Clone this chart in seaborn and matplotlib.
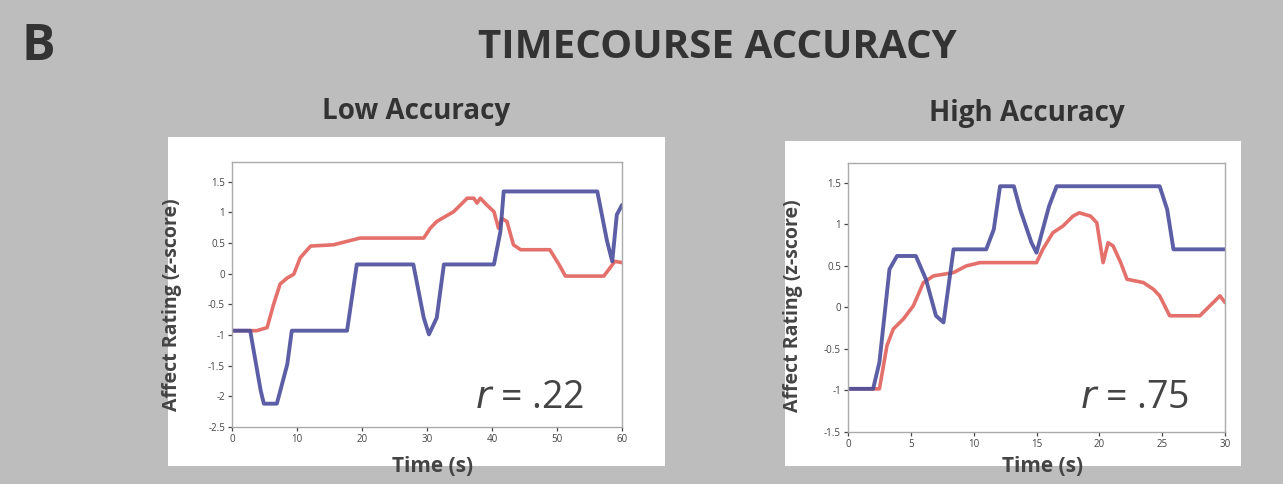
import matplotlib
matplotlib.use("Agg")
import matplotlib.pyplot as plt
import seaborn as sns
import pandas as pd
from matplotlib.patches import Rectangle

# ---------------- data ----------------
low_blue_x = [0, 2.8, 4.4, 4.9, 6.9, 8.5, 9.2, 17.7, 19.2, 27.9, 29.5, 30.3, 31.5, 32.6,
              40.3, 41.3, 41.8, 56.2, 57.7, 58.5, 59.2, 60]
low_blue_y = [-0.93, -0.93, -1.9, -2.12, -2.12, -1.48, -0.93, -0.93, 0.15, 0.15, -0.72, -0.99,
              -0.72, 0.15, 0.15, 0.69, 1.34, 1.34, 0.53, 0.2, 0.96, 1.12]

low_red_x = [0, 3.8, 5.4, 6.4, 7.4, 8.5, 9.5, 10.5, 12.1, 15.6, 19.7, 24.9, 29.5, 30.5, 31.5,
             34.1, 36.2, 37.2, 37.7, 38.2, 39.2, 40.3, 41.0, 41.5, 42.3, 43.3, 44.4, 48.9,
             50.3, 51.3, 57.2, 58.2, 58.9, 60]
low_red_y = [-0.93, -0.93, -0.88, -0.5, -0.17, -0.07, -0.01, 0.26, 0.45, 0.47, 0.58, 0.58, 0.58,
             0.74, 0.85, 1.01, 1.23, 1.23, 1.15, 1.23, 1.12, 1.01, 0.74, 0.9, 0.85, 0.47, 0.39,
             0.39, 0.15, -0.04, -0.04, 0.1, 0.2, 0.18]

high_blue_x = [0, 2.0, 2.5, 3.3, 3.9, 5.4, 6.2, 7.0, 7.6, 8.0, 8.4, 11.0, 11.6, 12.1, 13.2,
               13.7, 14.6, 15.0, 15.5, 16.0, 16.6, 24.8, 25.4, 25.9, 30]
high_blue_y = [-0.98, -0.98, -0.66, 0.46, 0.62, 0.62, 0.34, -0.1, -0.18, 0.26, 0.7, 0.7, 0.94,
               1.46, 1.46, 1.18, 0.78, 0.66, 0.94, 1.22, 1.46, 1.46, 1.18, 0.7, 0.7]

high_red_x = [0, 2.5, 3.1, 3.6, 4.4, 5.2, 6.0, 6.8, 8.4, 9.4, 10.5, 15.0, 15.5, 16.3, 17.1,
              17.9, 18.4, 19.3, 19.8, 20.3, 20.7, 21.1, 21.7, 22.2, 23.5, 24.3, 24.8, 25.6,
              28.0, 28.8, 29.6, 30]
high_red_y = [-0.98, -0.98, -0.46, -0.26, -0.14, 0.02, 0.3, 0.38, 0.42, 0.5, 0.54, 0.54, 0.7,
              0.9, 0.98, 1.1, 1.14, 1.1, 1.02, 0.54, 0.78, 0.74, 0.54, 0.34, 0.3, 0.22, 0.14,
              -0.1, -0.1, 0.02, 0.14, 0.06]

low_xticks = [0, 10, 20, 30, 40, 50, 60]
low_yticks = [-2.5, -2, -1.5, -1, -0.5, 0, 0.5, 1, 1.5]
high_xticks = [0, 5, 10, 15, 20, 25, 30]
high_yticks = [-1.5, -1, -0.5, 0, 0.5, 1, 1.5]

panel_titles = ["Low Accuracy", "High Accuracy"]
r_labels = [".22", ".75"]

# ---------------- style ----------------
sns.set_style("white")
plt.rcParams["font.family"] = ["Open Sans", "DejaVu Sans"]

BG = "#bdbdbd"
BLUE = "#4a4d9b"
RED = "#e2615c"

fig = plt.figure(figsize=(12.83, 4.84), dpi=100, facecolor=BG)

def fx(px):
    return px / 1283.0

def fy(py):
    return 1 - py / 484.0

# white panels
for (x0, y0, x1, y1) in [(168, 137, 665, 466), (785, 141, 1241, 466)]:
    fig.patches.append(Rectangle((fx(x0), fy(y1)), fx(x1 - x0), (y1 - y0) / 484.0,
                                 transform=fig.transFigure, facecolor="white",
                                 edgecolor="none", zorder=-5))

fig.text(fx(22), fy(47), "B", fontsize=36, fontweight="bold", color="#333333",
         va="center", ha="left")
fig.text(fx(717), fy(47), "TIMECOURSE ACCURACY", fontsize=29, fontweight="bold",
         color="#333333", va="center", ha="center")

axes_rects = [
    (fx(232), fy(427), fx(622 - 232), (427 - 162) / 484.0),
    (fx(848), fy(432), fx(1225 - 848), (432 - 163) / 484.0),
]
title_pos = [(416, 112), (1027, 113)]
series = [
    (low_blue_x, low_blue_y, low_red_x, low_red_y, low_xticks, low_yticks, (0, 60), (-2.5, 1.82)),
    (high_blue_x, high_blue_y, high_red_x, high_red_y, high_xticks, high_yticks, (0, 30), (-1.5, 1.74)),
]
r_pos = [(530, 398), (1134, 398)]
ylabel_coords = [(-0.128, 0.46), (-0.119, 0.47)]
xlabel_coords = [(0.515, -0.11), (0.517, -0.09)]

for i, rect in enumerate(axes_rects):
    bx, by, rx, ry, xt, yt, xl, yl = series[i]
    ax = fig.add_axes(rect)
    ax.set_facecolor("white")
    dfb = pd.DataFrame({"x": bx, "y": by})
    dfr = pd.DataFrame({"x": rx, "y": ry})
    sns.lineplot(data=dfr, x="x", y="y", ax=ax, color=RED, lw=2.6, estimator=None,
                 sort=False, alpha=0.9)
    sns.lineplot(data=dfb, x="x", y="y", ax=ax, color=BLUE, lw=2.8, estimator=None,
                 sort=False, alpha=0.9)
    ax.set_xlim(*xl)
    ax.set_ylim(*yl)
    ax.set_xticks(xt)
    ax.set_yticks(yt)
    ax.set_xticklabels([str(v) for v in xt])
    ax.set_yticklabels([("%g" % v) for v in yt])
    ax.tick_params(axis="both", labelsize=7, colors="#444444", length=3, width=0.9,
                   direction="out", bottom=True, left=True, pad=2)
    for s in ax.spines.values():
        s.set_color("#aaaaaa")
        s.set_linewidth(1.0)
    ax.set_xlabel("Time (s)", fontsize=15, fontweight="bold", color="#444444")
    ax.set_ylabel("Affect Rating (z-score)", fontsize=14, fontweight="bold",
                  color="#444444")
    ax.yaxis.set_label_coords(*ylabel_coords[i])
    ax.xaxis.set_label_coords(*xlabel_coords[i])
    fig.text(fx(title_pos[i][0]), fy(title_pos[i][1]), panel_titles[i], fontsize=20,
             fontweight="bold", color="#333333", ha="center", va="center")
    fig.text(fx(r_pos[i][0]), fy(r_pos[i][1]), "$\\it{r}$ = " + r_labels[i], fontsize=27,
             color="#444444", ha="center", va="center")

fig.savefig("out.png", dpi=100, facecolor=BG)
